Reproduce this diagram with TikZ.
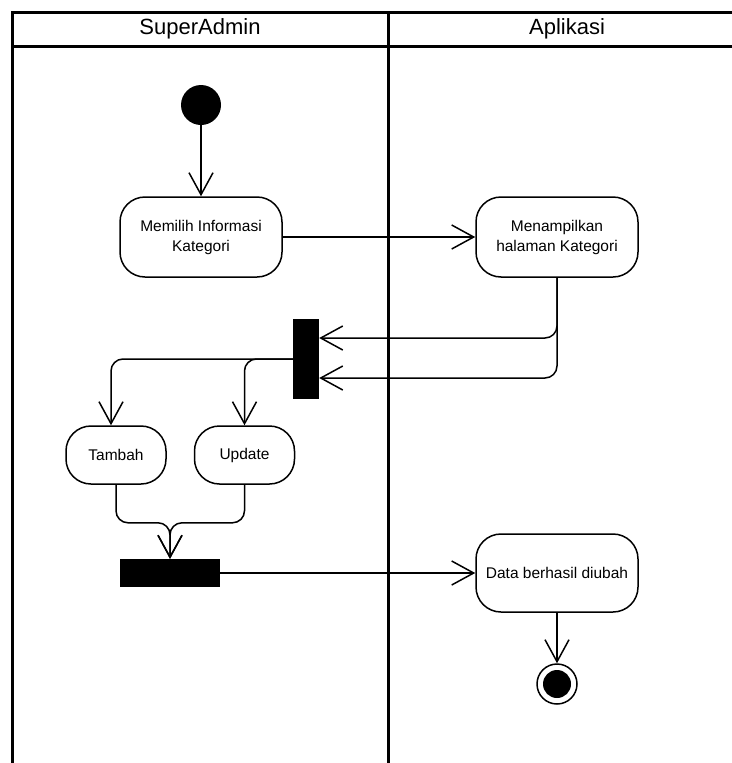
\documentclass[tikz,border=0pt]{standalone}
\usepackage{fontspec}
\setmainfont{Liberation Sans}
\usetikzlibrary{arrows.meta, calc, positioning}

\begin{document}
\begin{tikzpicture}[x=1pt, y=-1pt,
    act/.style = {draw, line width=1.5pt, rounded corners=25pt, minimum width=162pt, minimum height=80pt, align=center, inner sep=0pt, font=\fontsize{15.5}{20}\selectfont},
    small/.style = {act, minimum width=100pt, minimum height=58pt},
    bar/.style = {fill=black, inner sep=0pt},
    flow/.style = {line width=1.5pt, -{Straight Barb[length=22pt, width=24pt]}},
    lane/.style = {line width=3pt},
    title/.style = {font=\fontsize{22}{26}\selectfont}]
  \useasboundingbox (0,0) rectangle (731,763);
  % swimlanes
  \draw[lane] (12,780) -- (12,12) -- (740,12);
  \draw[lane] (12,46) -- (740,46);
  \draw[lane] (388,12) -- (388,780);
  \node[title] (admin) at (200,29) {SuperAdmin};
  \node[title] (app) at (567,29) {Aplikasi};

  \node[circle, fill=black, minimum size=40pt, inner sep=0pt] (start) at (201,105) {};
  \node[act] (pilih) at (201,237) {Memilih Informasi\\Kategori};
  \node[act] (tampil) at (557,237) {Menampilkan\\halaman Kategori};
  \node[bar, minimum width=26pt, minimum height=80pt] (fork) at (306,359) {};
  \node[small] (tambah) at (116,455) {Tambah};
  \node[small] (update) at (244.5,455) {Update};
  \node[bar, minimum width=100pt, minimum height=28pt] (join) at (170,573) {};
  \node[act, minimum height=78pt] (data) at (557,573) {Data berhasil diubah};
  \node[circle, draw, line width=1.5pt, minimum size=40pt, inner sep=0pt] (end) at (557,684) {};
  \node[circle, fill=black, minimum size=28pt, inner sep=0pt] (endin) at (end) {};

  \draw[flow] (start) -- (pilih);
  \draw[flow] (pilih) -- (tampil);
  \draw[flow, rounded corners=12pt] (tampil.south) |- ($(fork.east)+(0,-21)$);
  \draw[flow, rounded corners=12pt] (tampil.south) |- ($(fork.east)+(0,19)$);
  \draw[flow, rounded corners=12pt] (fork.west) -| ($(tambah.north)+(-5,0)$);
  \draw[flow, rounded corners=12pt] (fork.west) -| (update.north);
  \draw[flow, rounded corners=12pt] (tambah.south) |- ($(join.north)+(0,-36)$) -- (join.north);
  \draw[flow, rounded corners=12pt] (update.south) |- ($(join.north)+(0,-36)$) -- (join.north);
  \draw[flow] (join) -- (data);
  \draw[flow] (data) -- (end);
\end{tikzpicture}
\end{document}
